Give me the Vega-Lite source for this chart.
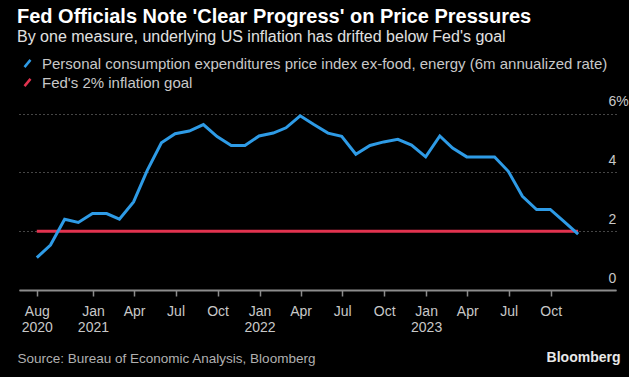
{
  "$schema": "https://vega.github.io/schema/vega-lite/v6.json",
  "width": 597,
  "height": 191,
  "autosize": "none",
  "padding": {"left": 19, "top": 99, "right": 13, "bottom": 87},
  "background": "#000000",
  "config": {
    "view": {"stroke": null},
    "font": "Liberation Sans"
  },
  "title": {
    "text": "Fed Officials Note 'Clear Progress' on Price Pressures",
    "subtitle": "By one measure, underlying US inflation has drifted below Fed's goal",
    "anchor": "start",
    "frame": "group",
    "dx": -2,
    "offset": 11,
    "font": "Liberation Sans",
    "fontSize": 20,
    "fontWeight": "bold",
    "color": "#ffffff",
    "subtitleFont": "Liberation Sans",
    "subtitleFontSize": 16,
    "subtitleColor": "#e0e0e0",
    "subtitlePadding": 2
  },
  "datasets": {
    "pce": [
      {"date": "2020-08-31", "value": 1.10, "series": "Personal consumption expenditures price index ex-food, energy (6m annualized rate)"},
      {"date": "2020-09-30", "value": 1.53, "series": "Personal consumption expenditures price index ex-food, energy (6m annualized rate)"},
      {"date": "2020-10-31", "value": 2.41, "series": "Personal consumption expenditures price index ex-food, energy (6m annualized rate)"},
      {"date": "2020-11-30", "value": 2.30, "series": "Personal consumption expenditures price index ex-food, energy (6m annualized rate)"},
      {"date": "2020-12-31", "value": 2.60, "series": "Personal consumption expenditures price index ex-food, energy (6m annualized rate)"},
      {"date": "2021-01-31", "value": 2.60, "series": "Personal consumption expenditures price index ex-food, energy (6m annualized rate)"},
      {"date": "2021-02-28", "value": 2.41, "series": "Personal consumption expenditures price index ex-food, energy (6m annualized rate)"},
      {"date": "2021-03-31", "value": 3.00, "series": "Personal consumption expenditures price index ex-food, energy (6m annualized rate)"},
      {"date": "2021-04-30", "value": 4.07, "series": "Personal consumption expenditures price index ex-food, energy (6m annualized rate)"},
      {"date": "2021-05-31", "value": 5.01, "series": "Personal consumption expenditures price index ex-food, energy (6m annualized rate)"},
      {"date": "2021-06-30", "value": 5.32, "series": "Personal consumption expenditures price index ex-food, energy (6m annualized rate)"},
      {"date": "2021-07-31", "value": 5.41, "series": "Personal consumption expenditures price index ex-food, energy (6m annualized rate)"},
      {"date": "2021-08-31", "value": 5.63, "series": "Personal consumption expenditures price index ex-food, energy (6m annualized rate)"},
      {"date": "2021-09-30", "value": 5.22, "series": "Personal consumption expenditures price index ex-food, energy (6m annualized rate)"},
      {"date": "2021-10-31", "value": 4.92, "series": "Personal consumption expenditures price index ex-food, energy (6m annualized rate)"},
      {"date": "2021-11-30", "value": 4.92, "series": "Personal consumption expenditures price index ex-food, energy (6m annualized rate)"},
      {"date": "2021-12-31", "value": 5.24, "series": "Personal consumption expenditures price index ex-food, energy (6m annualized rate)"},
      {"date": "2022-01-31", "value": 5.34, "series": "Personal consumption expenditures price index ex-food, energy (6m annualized rate)"},
      {"date": "2022-02-28", "value": 5.52, "series": "Personal consumption expenditures price index ex-food, energy (6m annualized rate)"},
      {"date": "2022-03-31", "value": 5.93, "series": "Personal consumption expenditures price index ex-food, energy (6m annualized rate)"},
      {"date": "2022-04-30", "value": 5.63, "series": "Personal consumption expenditures price index ex-food, energy (6m annualized rate)"},
      {"date": "2022-05-31", "value": 5.34, "series": "Personal consumption expenditures price index ex-food, energy (6m annualized rate)"},
      {"date": "2022-06-30", "value": 5.23, "series": "Personal consumption expenditures price index ex-food, energy (6m annualized rate)"},
      {"date": "2022-07-31", "value": 4.62, "series": "Personal consumption expenditures price index ex-food, energy (6m annualized rate)"},
      {"date": "2022-08-31", "value": 4.92, "series": "Personal consumption expenditures price index ex-food, energy (6m annualized rate)"},
      {"date": "2022-09-30", "value": 5.04, "series": "Personal consumption expenditures price index ex-food, energy (6m annualized rate)"},
      {"date": "2022-10-31", "value": 5.13, "series": "Personal consumption expenditures price index ex-food, energy (6m annualized rate)"},
      {"date": "2022-11-30", "value": 4.93, "series": "Personal consumption expenditures price index ex-food, energy (6m annualized rate)"},
      {"date": "2022-12-31", "value": 4.53, "series": "Personal consumption expenditures price index ex-food, energy (6m annualized rate)"},
      {"date": "2023-01-31", "value": 5.24, "series": "Personal consumption expenditures price index ex-food, energy (6m annualized rate)"},
      {"date": "2023-02-28", "value": 4.83, "series": "Personal consumption expenditures price index ex-food, energy (6m annualized rate)"},
      {"date": "2023-03-31", "value": 4.53, "series": "Personal consumption expenditures price index ex-food, energy (6m annualized rate)"},
      {"date": "2023-04-30", "value": 4.53, "series": "Personal consumption expenditures price index ex-food, energy (6m annualized rate)"},
      {"date": "2023-05-31", "value": 4.53, "series": "Personal consumption expenditures price index ex-food, energy (6m annualized rate)"},
      {"date": "2023-06-30", "value": 4.04, "series": "Personal consumption expenditures price index ex-food, energy (6m annualized rate)"},
      {"date": "2023-07-31", "value": 3.19, "series": "Personal consumption expenditures price index ex-food, energy (6m annualized rate)"},
      {"date": "2023-08-31", "value": 2.74, "series": "Personal consumption expenditures price index ex-food, energy (6m annualized rate)"},
      {"date": "2023-09-30", "value": 2.74, "series": "Personal consumption expenditures price index ex-food, energy (6m annualized rate)"},
      {"date": "2023-10-31", "value": 2.32, "series": "Personal consumption expenditures price index ex-food, energy (6m annualized rate)"},
      {"date": "2023-11-30", "value": 1.90, "series": "Personal consumption expenditures price index ex-food, energy (6m annualized rate)"}
    ],
    "goal": [
      {"date": "2020-08-31", "value": 2, "series": "Fed's 2% inflation goal"},
      {"date": "2023-11-30", "value": 2, "series": "Fed's 2% inflation goal"}
    ]
  },
  "encoding": {
    "x": {
      "field": "date",
      "type": "temporal",
      "scale": {
        "type": "utc",
        "domain": [
          {"year": 2020, "month": 7, "date": 23, "utc": true},
          {"year": 2024, "month": 2, "date": 21, "utc": true}
        ]
      },
      "axis": {
        "values": [
          {"year": 2020, "month": 8, "date": 31, "utc": true},
          {"year": 2021, "month": 1, "date": 1, "utc": true},
          {"year": 2021, "month": 4, "date": 1, "utc": true},
          {"year": 2021, "month": 7, "date": 1, "utc": true},
          {"year": 2021, "month": 10, "date": 1, "utc": true},
          {"year": 2022, "month": 1, "date": 1, "utc": true},
          {"year": 2022, "month": 4, "date": 1, "utc": true},
          {"year": 2022, "month": 7, "date": 1, "utc": true},
          {"year": 2022, "month": 10, "date": 1, "utc": true},
          {"year": 2023, "month": 1, "date": 1, "utc": true},
          {"year": 2023, "month": 4, "date": 1, "utc": true},
          {"year": 2023, "month": 7, "date": 1, "utc": true},
          {"year": 2023, "month": 10, "date": 1, "utc": true}
        ],
        "labelExpr": "utcmonth(datum.value) == 7 ? ['Aug', '2020'] : (utcmonth(datum.value) == 0 ? [utcFormat(datum.value, '%b'), utcFormat(datum.value, '%Y')] : utcFormat(datum.value, '%b'))",
        "labelFont": "Liberation Sans",
        "labelFontSize": 14,
        "labelColor": "#c8c8c8",
        "labelLineHeight": 16,
        "labelPadding": 8,
        "labelBaseline": "top",
        "labelOverlap": false,
        "labelFlush": false,
        "domain": true,
        "domainColor": "#8c8c8c",
        "domainWidth": 2,
        "ticks": true,
        "tickColor": "#8c8c8c",
        "tickSize": 6,
        "tickWidth": 1.5,
        "grid": false,
        "title": "Source: Bureau of Economic Analysis, Bloomberg",
        "titleFont": "Liberation Sans",
        "titleFontSize": 13.5,
        "titleFontWeight": "normal",
        "titleColor": "#b0b0b0",
        "titleAlign": "left",
        "titleBaseline": "alphabetic",
        "titleX": -2,
        "titleY": 72
      }
    },
    "y": {
      "field": "value",
      "type": "quantitative",
      "scale": {"domain": [0, 6.5], "nice": false, "zero": true},
      "axis": {
        "orient": "right",
        "values": [0, 2, 4, 6],
        "labelExpr": "datum.value == 6 ? '6%' : datum.label",
        "labelFont": "Liberation Sans",
        "labelFontSize": 14,
        "labelColor": "#c8c8c8",
        "labelAlign": "left",
        "labelBaseline": "alphabetic",
        "labelPadding": -8,
        "labelOffset": -8,
        "ticks": false,
        "domain": false,
        "grid": true,
        "gridColor": "#8a8a8a",
        "gridDash": [1, 3],
        "gridWidth": 1,
        "title": "Bloomberg",
        "titleFont": "Liberation Sans",
        "titleFontSize": 14,
        "titleFontWeight": "bold",
        "titleColor": "#e8e8e8",
        "titleAngle": 0,
        "titleAlign": "right",
        "titleBaseline": "alphabetic",
        "titleX": 4,
        "titleY": 262
      }
    },
    "color": {
      "field": "series",
      "type": "nominal",
      "scale": {
        "domain": [
          "Personal consumption expenditures price index ex-food, energy (6m annualized rate)",
          "Fed's 2% inflation goal"
        ],
        "range": ["#2e9be6", "#e2334f"]
      },
      "legend": {
        "orient": "none",
        "legendX": 1,
        "legendY": -43,
        "title": null,
        "direction": "vertical",
        "symbolType": "M-0.75,0.9L0.75,-0.9",
        "symbolSize": 64,
        "symbolStrokeWidth": 2.5,
        "symbolFillColor": "transparent",
        "labelFont": "Liberation Sans",
        "labelFontSize": 15,
        "labelColor": "#c8c8c8",
        "labelOffset": 7,
        "rowPadding": 0,
        "padding": 0,
        "labelLimit": 700
      }
    }
  },
  "layer": [
    {
      "data": {"name": "goal"},
      "mark": {"type": "line", "strokeWidth": 3}
    },
    {
      "data": {"name": "pce"},
      "mark": {"type": "line", "strokeWidth": 3}
    }
  ]
}
